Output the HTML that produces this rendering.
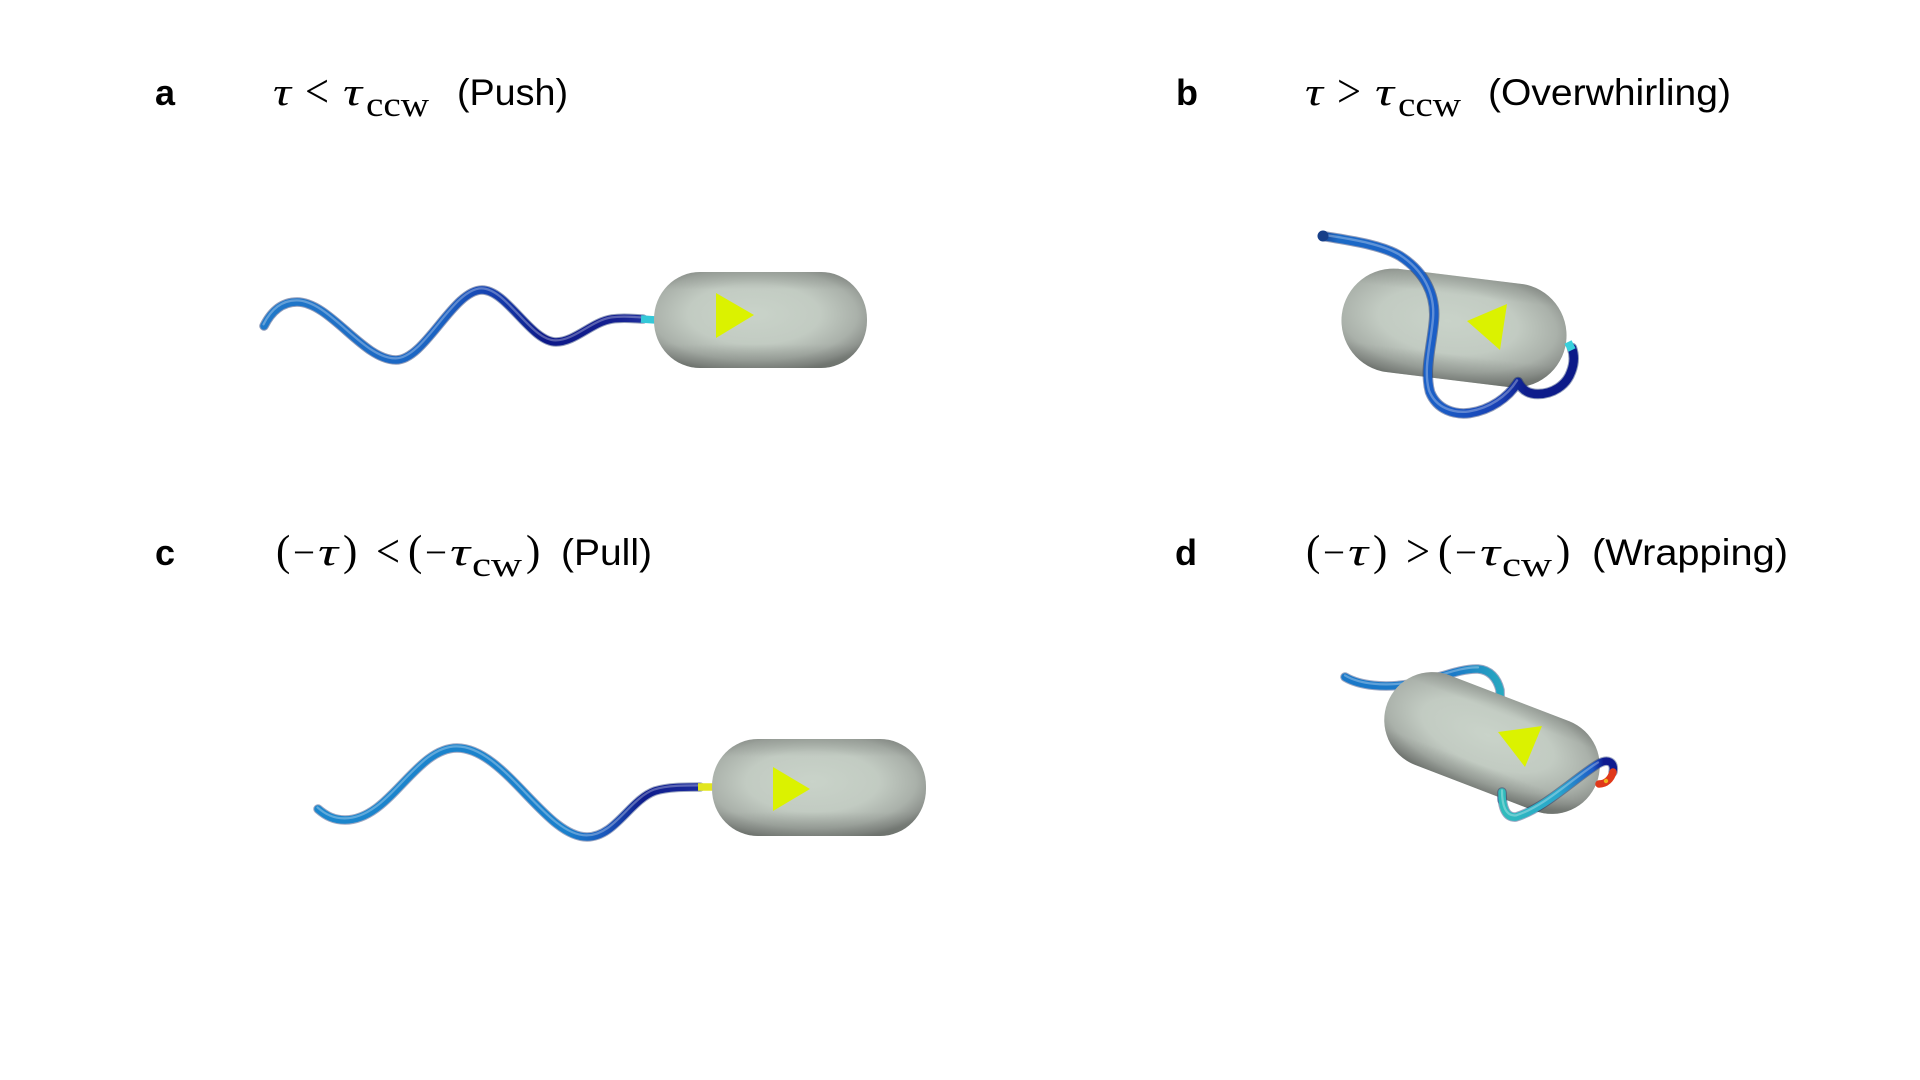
<!DOCTYPE html>
<html>
<head>
<meta charset="utf-8">
<style>
  html, body { margin:0; padding:0; background:#ffffff; }
  body { width:1920px; height:1080px; overflow:hidden; }
  svg { display:block; }
  .lbl { font-family:"Liberation Sans", Arial, sans-serif; font-weight:bold; font-size:36px; fill:#000; }
  .txt { font-family:"Liberation Sans", Arial, sans-serif; font-size:37px; fill:#000; }
  .m { font-family:"Liberation Serif", "DejaVu Serif", serif; font-size:38px; fill:#000; }
  .mp { font-family:"Liberation Serif", "DejaVu Serif", serif; font-size:43px; fill:#000; }
  .cmp { font-family:"Liberation Serif", "DejaVu Serif", serif; font-size:48px; fill:#000; }
  .mi { font-family:"Liberation Serif", "DejaVu Serif", serif; font-style:italic; font-size:39px; fill:#000; }
  .sub { font-family:"Liberation Serif", "DejaVu Serif", serif; font-size:35px; fill:#000; }
</style>
</head>
<body>
<svg width="1920" height="1080" viewBox="0 0 1920 1080" xmlns="http://www.w3.org/2000/svg">
  <defs>
    <radialGradient id="pillR" cx="0.47" cy="0.44" r="0.62">
      <stop offset="0" stop-color="#c9d3c9"/>
      <stop offset="0.5" stop-color="#c2cbc2"/>
      <stop offset="0.78" stop-color="#aab1aa"/>
      <stop offset="0.93" stop-color="#8e938e"/>
      <stop offset="1" stop-color="#7a7f7a"/>
    </radialGradient>
    <linearGradient id="pillV" x1="0" y1="0" x2="0" y2="1">
      <stop offset="0" stop-color="#6f746f" stop-opacity="0.35"/>
      <stop offset="0.18" stop-color="#6f746f" stop-opacity="0"/>
      <stop offset="0.75" stop-color="#6f746f" stop-opacity="0"/>
      <stop offset="1" stop-color="#5d625d" stop-opacity="0.45"/>
    </linearGradient>

    <linearGradient id="gA" gradientUnits="userSpaceOnUse" x1="264" y1="0" x2="655" y2="0">
      <stop offset="0" stop-color="#2079c9"/>
      <stop offset="0.45" stop-color="#1a62c2"/>
      <stop offset="0.58" stop-color="#1640b0"/>
      <stop offset="0.72" stop-color="#0c1888"/>
      <stop offset="0.9" stop-color="#141f90"/>
      <stop offset="1" stop-color="#2436a4"/>
    </linearGradient>
    <linearGradient id="gC" gradientUnits="userSpaceOnUse" x1="318" y1="0" x2="700" y2="0">
      <stop offset="0" stop-color="#1b86cc"/>
      <stop offset="0.65" stop-color="#1a80cc"/>
      <stop offset="0.75" stop-color="#1a58bc"/>
      <stop offset="0.85" stop-color="#0e1c8c"/>
      <stop offset="1" stop-color="#1a2a9c"/>
    </linearGradient>
    <linearGradient id="gB" gradientUnits="userSpaceOnUse" x1="1323" y1="0" x2="1576" y2="0">
      <stop offset="0" stop-color="#17489a"/>
      <stop offset="0.06" stop-color="#1b6ac6"/>
      <stop offset="0.45" stop-color="#1b5ec6"/>
      <stop offset="0.7" stop-color="#1840b4"/>
      <stop offset="0.8" stop-color="#0e1d8c"/>
      <stop offset="1" stop-color="#0c1a88"/>
    </linearGradient>
    <linearGradient id="gDb" gradientUnits="userSpaceOnUse" x1="1345" y1="0" x2="1502" y2="0">
      <stop offset="0" stop-color="#1a78c8"/>
      <stop offset="0.7" stop-color="#1b7ac8"/>
      <stop offset="1" stop-color="#28a8c0"/>
    </linearGradient>
    <linearGradient id="gDf" gradientUnits="userSpaceOnUse" x1="1502" y1="0" x2="1615" y2="0">
      <stop offset="0" stop-color="#30bcbc"/>
      <stop offset="0.5" stop-color="#2aa6cc"/>
      <stop offset="0.8" stop-color="#1c5cc8"/>
      <stop offset="0.9" stop-color="#0e1a90"/>
      <stop offset="1" stop-color="#0e1a90"/>
    </linearGradient>
  </defs>

  <!-- ===== Titles ===== -->
  <!-- a -->
  <text class="lbl" x="155" y="105">a</text>
  <text class="mi" x="273" y="105" textLength="18" lengthAdjust="spacingAndGlyphs">τ</text>
  <text class="cmp" x="305" y="107" textLength="24" lengthAdjust="spacingAndGlyphs">&lt;</text>
  <text class="mi" x="343" y="105" textLength="19" lengthAdjust="spacingAndGlyphs">τ</text>
  <text class="sub" x="366" y="116" textLength="63" lengthAdjust="spacingAndGlyphs">ccw</text>
  <text class="txt" x="457" y="105" textLength="111" lengthAdjust="spacingAndGlyphs">(Push)</text>

  <!-- b -->
  <text class="lbl" x="1176" y="105">b</text>
  <text class="mi" x="1305" y="105" textLength="18" lengthAdjust="spacingAndGlyphs">τ</text>
  <text class="cmp" x="1337" y="107" textLength="24" lengthAdjust="spacingAndGlyphs">&gt;</text>
  <text class="mi" x="1375" y="105" textLength="19" lengthAdjust="spacingAndGlyphs">τ</text>
  <text class="sub" x="1398" y="116" textLength="63" lengthAdjust="spacingAndGlyphs">ccw</text>
  <text class="txt" x="1488" y="105" textLength="243" lengthAdjust="spacingAndGlyphs">(Overwhirling)</text>

  <!-- c -->
  <text class="lbl" x="155" y="565">c</text>
  <text class="mp" x="276" y="565">(</text>
  <text class="m" x="293" y="565" textLength="22" lengthAdjust="spacingAndGlyphs">−</text>
  <text class="mi" x="318" y="565" textLength="20" lengthAdjust="spacingAndGlyphs">τ</text>
  <text class="mp" x="343" y="565">)</text>
  <text class="cmp" x="376" y="567" textLength="24" lengthAdjust="spacingAndGlyphs">&lt;</text>
  <text class="mp" x="408" y="565">(</text>
  <text class="m" x="425" y="565" textLength="22" lengthAdjust="spacingAndGlyphs">−</text>
  <text class="mi" x="450" y="565" textLength="20" lengthAdjust="spacingAndGlyphs">τ</text>
  <text class="sub" x="472" y="576" textLength="50" lengthAdjust="spacingAndGlyphs">cw</text>
  <text class="mp" x="526" y="565">)</text>
  <text class="txt" x="561" y="565" textLength="91" lengthAdjust="spacingAndGlyphs">(Pull)</text>

  <!-- d -->
  <text class="lbl" x="1175" y="565">d</text>
  <text class="mp" x="1306" y="565">(</text>
  <text class="m" x="1323" y="565" textLength="22" lengthAdjust="spacingAndGlyphs">−</text>
  <text class="mi" x="1348" y="565" textLength="20" lengthAdjust="spacingAndGlyphs">τ</text>
  <text class="mp" x="1373" y="565">)</text>
  <text class="cmp" x="1406" y="567" textLength="24" lengthAdjust="spacingAndGlyphs">&gt;</text>
  <text class="mp" x="1438" y="565">(</text>
  <text class="m" x="1455" y="565" textLength="22" lengthAdjust="spacingAndGlyphs">−</text>
  <text class="mi" x="1480" y="565" textLength="20" lengthAdjust="spacingAndGlyphs">τ</text>
  <text class="sub" x="1502" y="576" textLength="50" lengthAdjust="spacingAndGlyphs">cw</text>
  <text class="mp" x="1556" y="565">)</text>
  <text class="txt" x="1592" y="565" textLength="196" lengthAdjust="spacingAndGlyphs">(Wrapping)</text>

  <!-- ===== Panel a ===== -->
  <g fill="none" stroke-linecap="round" stroke-linejoin="round">
    <path d="M264,326 C272,310 283,302 297,302 C330,302 363,360 396,360 C425,360 453,290 482,290 C507,290 531,342 556,342 C575,342 592,322 612,319 C625,317 635,319 643,319" stroke="#0a2466" stroke-opacity="0.45" stroke-width="9.5"/>
    <path d="M264,326 C272,310 283,302 297,302 C330,302 363,360 396,360 C425,360 453,290 482,290 C507,290 531,342 556,342 C575,342 592,322 612,319 C625,317 635,319 643,319" stroke="url(#gA)" stroke-width="7.5"/>
    <path d="M264,326 C272,310 283,302 297,302 C330,302 363,360 396,360 C425,360 453,290 482,290 C507,290 531,342 556,342 C575,342 592,322 612,319 C625,317 635,319 643,319" stroke="#ffffff" stroke-opacity="0.3" stroke-width="2.2" transform="translate(-0.5,-1.6)"/>
    <path d="M641,319 L656,320" stroke="#34c8d8" stroke-width="7.5" stroke-linecap="butt"/>
  </g>
  <rect x="654" y="272" width="213" height="96" rx="46" ry="47" fill="url(#pillR)"/>
  <rect x="654" y="272" width="213" height="96" rx="46" ry="47" fill="url(#pillV)"/>
  <polygon points="716,293 716,338 754,315" fill="#dbf200"/>

  <!-- ===== Panel c ===== -->
  <g fill="none" stroke-linecap="round" stroke-linejoin="round">
    <path d="M318,809 C326,816 334,820 345,820 C390,820 415,748 457,748 C505,748 545,837 587,837 C615,837 630,800 655,791 C668,787 685,787 700,787" stroke="#0a2466" stroke-opacity="0.4" stroke-width="9.5"/>
    <path d="M318,809 C326,816 334,820 345,820 C390,820 415,748 457,748 C505,748 545,837 587,837 C615,837 630,800 655,791 C668,787 685,787 700,787" stroke="url(#gC)" stroke-width="7.5"/>
    <path d="M318,809 C326,816 334,820 345,820 C390,820 415,748 457,748 C505,748 545,837 587,837 C615,837 630,800 655,791 C668,787 685,787 700,787" stroke="#ffffff" stroke-opacity="0.3" stroke-width="2.2" transform="translate(-0.5,-1.6)"/>
    <path d="M698,787 L714,787" stroke="#e2e61e" stroke-width="7.5" stroke-linecap="butt"/>
  </g>
  <rect x="712" y="739" width="214" height="97" rx="46" ry="47" fill="url(#pillR)"/>
  <rect x="712" y="739" width="214" height="97" rx="46" ry="47" fill="url(#pillV)"/>
  <polygon points="773,767 773,811 810,789" fill="#dbf200"/>

  <!-- ===== Panel b ===== -->
  <g transform="translate(1454,328) rotate(7)">
    <rect x="-113" y="-52" width="226" height="104" rx="52" ry="52" fill="url(#pillR)"/>
    <rect x="-113" y="-52" width="226" height="104" rx="52" ry="52" fill="url(#pillV)"/>
  </g>
  <polygon points="1507,304 1467,321 1500,350" fill="#dbf200"/>
  <g fill="none" stroke-linecap="round" stroke-linejoin="round">
    <path d="M1323,236 C1345,240 1380,244 1400,256 C1425,272 1436,295 1434,320 C1432,345 1424,370 1430,392 C1437,410 1455,415 1470,413 C1490,410 1508,398 1518,382 C1522,390 1528,394 1538,394 C1552,394 1566,386 1571,372 C1575,362 1574,354 1572,348" stroke="#0a2466" stroke-opacity="0.45" stroke-width="10.5"/>
    <path d="M1323,236 C1345,240 1380,244 1400,256 C1425,272 1436,295 1434,320 C1432,345 1424,370 1430,392 C1437,410 1455,415 1470,413 C1490,410 1508,398 1518,382 C1522,390 1528,394 1538,394 C1552,394 1566,386 1571,372 C1575,362 1574,354 1572,348" stroke="url(#gB)" stroke-width="8.5"/>
    <path d="M1323,236 C1345,240 1380,244 1400,256 C1425,272 1436,295 1434,320 C1432,345 1424,370 1430,392 C1437,410 1455,415 1470,413 C1490,410 1508,398 1518,382" stroke="#ffffff" stroke-opacity="0.3" stroke-width="2.4" transform="translate(-1,-1.6)"/>
    <path d="M1572,350 L1568,342" stroke="#38d0dc" stroke-width="8" stroke-linecap="butt"/>
  </g>
  <circle cx="1323" cy="236" r="5.5" fill="#173f88"/>

  <!-- ===== Panel d ===== -->
  <g fill="none" stroke-linecap="round" stroke-linejoin="round">
    <path d="M1345,677 C1360,686 1385,688 1410,684 C1435,680 1460,668 1478,669 C1490,670 1497,678 1500,690 L1502,800" stroke="#0a2466" stroke-opacity="0.4" stroke-width="9.5"/>
    <path d="M1345,677 C1360,686 1385,688 1410,684 C1435,680 1460,668 1478,669 C1490,670 1497,678 1500,690 L1502,800" stroke="url(#gDb)" stroke-width="7.5"/>
    <path d="M1345,677 C1360,686 1385,688 1410,684 C1435,680 1460,668 1478,669" stroke="#ffffff" stroke-opacity="0.3" stroke-width="2.2" transform="translate(0,-1.6)"/>
  </g>
  <g transform="translate(1492,743) rotate(21)">
    <rect x="-112" y="-48" width="224" height="96" rx="48" ry="48" fill="url(#pillR)"/>
    <rect x="-112" y="-48" width="224" height="96" rx="48" ry="48" fill="url(#pillV)"/>
  </g>
  <polygon points="1498,732 1542,726 1525,767" fill="#dbf200"/>
  <g fill="none" stroke-linecap="round" stroke-linejoin="round">
    <path d="M1502,792 C1502,808 1506,818 1516,817 C1545,808 1575,778 1598,764 C1608,758 1615,762 1613,772" stroke="#0a2466" stroke-opacity="0.4" stroke-width="9.5"/>
    <path d="M1502,792 C1502,808 1506,818 1516,817 C1545,808 1575,778 1598,764 C1608,758 1615,762 1613,772" stroke="url(#gDf)" stroke-width="7.5"/>
    <path d="M1502,792 C1502,808 1506,818 1516,817 C1545,808 1575,778 1598,764" stroke="#ffffff" stroke-opacity="0.3" stroke-width="2.2" transform="translate(0,-1.6)"/>
    <path d="M1613,772 C1611,779 1606,784 1599,784" stroke="#e0381a" stroke-width="7.5"/>
  </g>
  <circle cx="1606" cy="781" r="2.2" fill="#f2b21a"/>
</svg>
</body>
</html>
